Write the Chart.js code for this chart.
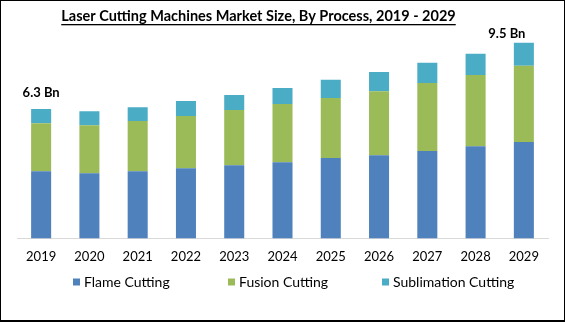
<!DOCTYPE html>
<html>
<head>
<meta charset="utf-8">
<script src="https://cdn.jsdelivr.net/npm/chart.js@4.4.0/dist/chart.umd.min.js"></script>
<style>
  html, body { margin: 0; padding: 0; background: #fff; }
  #wrap { position: relative; width: 565px; height: 322px; }
  #frame { position: absolute; left: 0; top: 0; width: 565px; height: 322px; box-sizing: border-box; border: 1px solid #000; border-bottom-width: 2px; pointer-events: none; }
</style>
</head>
<body>
<div id="wrap">
  <canvas id="myChart" width="565" height="322"></canvas>
  <div id="frame"></div>
</div>
<script>
  const years = ['2019', '2020', '2021', '2022', '2023', '2024', '2025', '2026', '2027', '2028', '2029'];
  const flame = [3.27, 3.17, 3.27, 3.42, 3.56, 3.71, 3.91, 4.05, 4.25, 4.49, 4.69];
  const fusion = [2.34, 2.34, 2.44, 2.54, 2.69, 2.83, 2.93, 3.12, 3.32, 3.47, 3.71];
  const sublimation = [0.69, 0.68, 0.68, 0.73, 0.73, 0.78, 0.88, 0.93, 0.98, 1.03, 1.12];
  const endLabels = { 0: '6.3 Bn', 10: '9.5 Bn' };
  const title = 'Laser Cutting Machines Market Size, By Process, 2019 - 2029';

  // title with underline, value callouts and a spaced-out legend
  const extras = {
    id: 'extras',
    afterDraw(chart) {
      const c = chart.ctx;
      c.save();
      c.fillStyle = '#000';
      c.font = 'bold 14.5px Lato';
      c.textAlign = 'center';
      c.textBaseline = 'middle';
      const tx = 258.5;
      c.fillText(title, tx, 16);
      const w = c.measureText(title).width;
      c.fillRect(tx - w / 2, 24, w, 1.3);

      const meta = chart.getDatasetMeta(2);
      c.font = 'bold 13px Lato';
      Object.keys(endLabels).forEach(i => {
        const bar = meta.data[i];
        const dx = i == 10 ? -17 : 0;
        const dy = i == 10 ? 9 : 16;
        c.fillText(endLabels[i], bar.x + dx, bar.y - dy);
      });

      // legend
      const xs = [73, 228, 382];
      const ly = 282;
      c.font = '14px Lato';
      c.textAlign = 'left';
      chart.data.datasets.forEach((ds, k) => {
        c.fillStyle = ds.backgroundColor;
        c.fillRect(xs[k], ly - 3.5, 7, 7);
        c.fillStyle = '#000';
        c.fillText(ds.label, xs[k] + 11, ly);
      });
      c.restore();
    }
  };

  const ctx = document.getElementById('myChart');
  new Chart(ctx, {
    type: 'bar',
    data: {
      labels: years,
      datasets: [
        { label: 'Flame Cutting', data: flame, backgroundColor: '#4F81BD' },
        { label: 'Fusion Cutting', data: fusion, backgroundColor: '#9BBB59' },
        { label: 'Sublimation Cutting', data: sublimation, backgroundColor: '#4BACC6' }
      ]
    },
    options: {
      responsive: false,
      animation: false,
      devicePixelRatio: 1,
      layout: { padding: { top: 33, left: 17, right: 17, bottom: 46 } },
      datasets: { bar: { barPercentage: 0.83, categoryPercentage: 0.5 } },
      scales: {
        x: {
          stacked: true,
          grid: { display: false, drawTicks: false },
          border: { color: '#d9d9d9', width: 1 },
          ticks: { color: '#000', font: { family: 'Lato', size: 13 }, padding: 11 }
        },
        y: {
          stacked: true,
          display: false,
          min: 0,
          max: 10
        }
      },
      plugins: {
        legend: { display: false },
        tooltip: { enabled: false }
      }
    },
    plugins: [extras]
  });
</script>
</body>
</html>
